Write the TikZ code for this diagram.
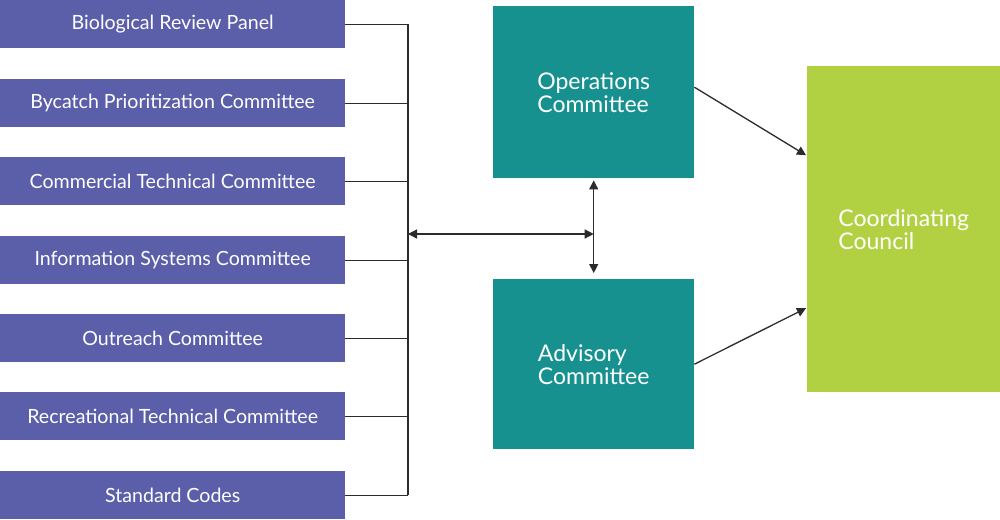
\documentclass[tikz,border=0pt]{standalone}
\usepackage{fontspec}
\setmainfont{Lato}
\usetikzlibrary{arrows.meta}
\definecolor{boxpurple}{HTML}{5B5EA8}
\definecolor{boxteal}{HTML}{16918F}
\definecolor{boxgreen}{HTML}{B2D142}
\definecolor{linegray}{HTML}{2B2B2B}
\tikzset{
  purplebox/.style={fill=boxpurple, draw=none, minimum width=345pt, minimum height=48pt, anchor=north west, inner sep=0pt, text=white, font=\fontsize{19.6}{22}\selectfont},
  tealbox/.style={fill=boxteal, draw=none, minimum width=201pt, anchor=north west, inner sep=0pt, text=white, align=left, font=\fontsize{23}{23}\selectfont},
  greenbox/.style={fill=boxgreen, draw=none, minimum width=193pt, minimum height=326pt, anchor=north west, inner sep=0pt, text=white, align=left, font=\fontsize{23}{23}\selectfont},
  conn/.style={draw=linegray, line width=1.3pt},
  arr/.style={conn, -{Triangle[length=9pt,width=9pt]}},
  dblarr/.style={conn, {Triangle[length=9pt,width=9pt]}-{Triangle[length=9pt,width=9pt]}},
}
\begin{document}
\begin{tikzpicture}[x=1pt,y=-1pt]
\useasboundingbox (0,0) rectangle (1000,519);
\node[purplebox] (b1) at (0,0) {Biological Review Panel};
\node[purplebox] (b2) at (0,79) {Bycatch Prioritization Committee};
\node[purplebox] (b3) at (0,157) {Commercial Technical Committee};
\node[purplebox] (b4) at (0,236) {Information Systems Committee};
\node[purplebox] (b5) at (0,314) {Outreach Committee};
\node[purplebox] (b6) at (0,392) {Recreational Technical Committee};
\node[purplebox] (b7) at (0,471) {Standard Codes};
\node[tealbox, minimum height=172pt] (ops) at (493,6) {Operations\\Committee};
\node[tealbox, minimum height=170pt] (adv) at (493,279) {Advisory\\Committee};
\node[greenbox] (cc) at (807,66) {Coordinating\\Council};
\coordinate (bustop) at (408,24);
\coordinate (busbot) at (408,495);
\coordinate (hub) at (408,234);
\draw[conn] (bustop) -- (busbot);
\foreach \b in {b1,b2,b3,b4,b5,b6,b7}{
  \draw[conn] (\b.east) -- (\b.east -| bustop);
}
\coordinate (vmid) at (ops.south |- hub);
\draw[dblarr] (hub) -- (vmid);
\draw[dblarr, shorten <=2pt, shorten >=6pt] (ops.south) -- (adv.north);
\draw[arr] ([yshift=5pt]ops.east) -- ([xshift=-1pt,yshift=74pt]cc.west);
\draw[arr] (adv.east) -- ([xshift=-1pt,yshift=-79pt]cc.west);
\end{tikzpicture}
\end{document}
